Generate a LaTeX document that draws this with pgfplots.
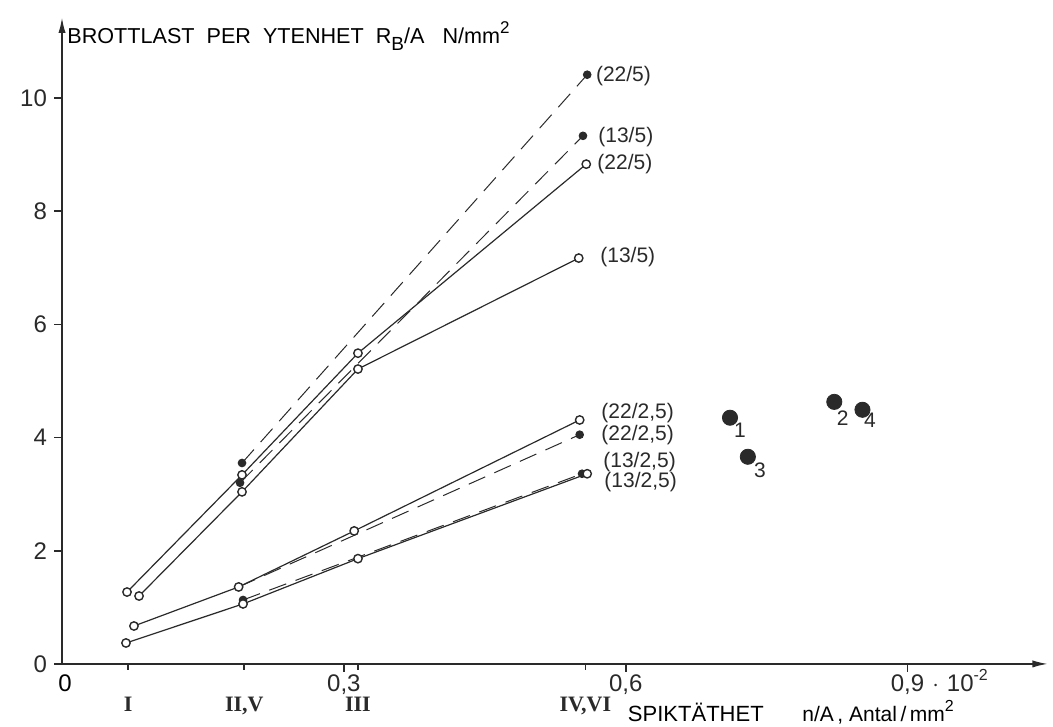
\documentclass[border=0pt]{standalone}
\usepackage{pgfplots}
\pgfplotsset{compat=1.18}
\usepackage{fontspec}
\setmainfont{Liberation Sans}
\newfontfamily\romanfont{Liberation Serif}
\usetikzlibrary{arrows.meta}
\definecolor{ink}{HTML}{2A2A2A}

\begin{document}
\begin{tikzpicture}
\begin{axis}[
  x=469.75pt, y=28.3pt,
  xmin=0, xmax=1.05, ymin=0, ymax=11.43,
  enlargelimits=false,
  clip=false,
  axis lines=left,
  axis line style={ink, line width=1pt, -{Latex[length=8pt,width=3.6pt]}},
  tick align=outside,
  major tick length=4pt,
  tick style={ink, line width=0.8pt},
  xtick={0.3,0.6,0.9},
  xticklabels={{0,3},{0,6},{0,9\rlap{\,\,$\cdot$\,\,10\smash{\raisebox{0.9ex}{\fontsize{8}{8}\selectfont -2}}}}},
  ytick={0,2,4,6,8,10},
  yticklabels={0,2,4,6,8,10},
  ticklabel style={font=\fontsize{12}{12}\selectfont, text=ink},
  xticklabel style={yshift=2pt},
  extra x ticks={0.0703,0.194,0.315,0.557},
  extra x tick labels={I,{II,V},III,{IV,VI}},
  extra x tick style={major tick length=3pt,
    tick label style={font=\romanfont\bfseries\fontsize{11}{11}\selectfont, yshift=-12pt}},
  every node/.append style={text=ink},
]
% dashed series (filled marks)
\pgfplotsset{dashser/.style={ink, line width=0.5pt, dash pattern=on 9pt off 5pt,
    mark=*, mark size=1.9pt, mark options={solid, fill=ink, draw=ink}}}
\pgfplotsset{openser/.style={ink, line width=0.6pt,
    mark=*, mark size=2.1pt, mark options={solid, fill=white, draw=ink, line width=0.7pt}}}

% 22/5, filled
\addplot[dashser] coordinates {(0.1916,3.55) (0.559,10.41)};
% 13/5, filled
\addplot[dashser] coordinates {(0.1895,3.20) (0.5545,9.33)};
% 22/2,5, filled
\addplot[dashser] coordinates {(0.188,1.36) (0.551,4.05)};
% 13/2,5, filled
\addplot[dashser] coordinates {(0.1927,1.13) (0.5535,3.36)};

% 22/5, open
\addplot[openser] coordinates {(0.0692,1.27) (0.1916,3.34) (0.315,5.49) (0.558,8.83)};
% 13/5, open
\addplot[openser] coordinates {(0.082,1.20) (0.1916,3.04) (0.315,5.21) (0.550,7.17)};
% 22/2,5, open
\addplot[openser] coordinates {(0.0766,0.67) (0.188,1.36) (0.311,2.35) (0.551,4.31)};
% 13/2,5, open
\addplot[openser] coordinates {(0.0681,0.37) (0.1927,1.06) (0.315,1.86) (0.559,3.36)};

% single tests 1--4
\addplot[only marks, mark=*, mark size=3.8pt, ink] coordinates
  {(0.711,4.35) (0.822,4.63) (0.730,3.66) (0.852,4.49)};

% series labels
\begin{scope}[every node/.style={anchor=west, inner sep=0pt, text=ink,
    font=\fontsize{10.5}{11}\selectfont}]
\node at (axis cs:0.568,10.39) {(22/5)};
\node at (axis cs:0.5705,9.31) {(13/5)};
\node at (axis cs:0.5695,8.83) {(22/5)};
\node at (axis cs:0.5726,7.19) {(13/5)};
\node at (axis cs:0.5737,4.43) {(22/2,5)};
\node at (axis cs:0.5737,4.05) {(22/2,5)};
\node at (axis cs:0.5758,3.57) {(13/2,5)};
\node at (axis cs:0.5769,3.22) {(13/2,5)};
\end{scope}
\begin{scope}[every node/.style={inner sep=0pt, text=ink,
    font=\fontsize{10.5}{11}\selectfont}]
\node at (axis cs:0.7217,4.13) {1};
\node at (axis cs:0.831,4.35) {2};
\node at (axis cs:0.743,3.43) {3};
\node at (axis cs:0.860,4.31) {4};
\end{scope}

% axis titles
\node[anchor=west, inner sep=0pt, font=\fontsize{10.8}{12}\selectfont]
  at (axis cs:0.0053,11.1)
  {BROTTLAST\ \ PER\ \ YTENHET\ \ R\raisebox{-0.6ex}{\fontsize{9.5}{9.5}\selectfont B}/A\ \ \ N/mm\raisebox{0.9ex}{\fontsize{8.5}{8.5}\selectfont 2}};
\node[anchor=west, inner sep=0pt, font=\fontsize{11}{12}\selectfont]
  at (axis cs:0.602,-0.848) {SPIKTÄTHET};
\node[anchor=west, inner sep=0pt, font=\fontsize{10.5}{11}\selectfont]
  at (axis cs:0.7877,-0.848) {n/A\,,\ Antal\,/\,mm\raisebox{0.9ex}{\fontsize{8}{8}\selectfont 2}};
\node[inner sep=0pt, font=\fontsize{12}{12}\selectfont]
  at (axis cs:0.0032,-0.336) {0};

\coordinate (bbA) at (axis cs:-0.066,-1.113);
\coordinate (bbB) at (axis cs:1.0548,11.73);
\end{axis}
\pgfresetboundingbox
\useasboundingbox (bbA) rectangle (bbB);
\end{tikzpicture}
\end{document}
